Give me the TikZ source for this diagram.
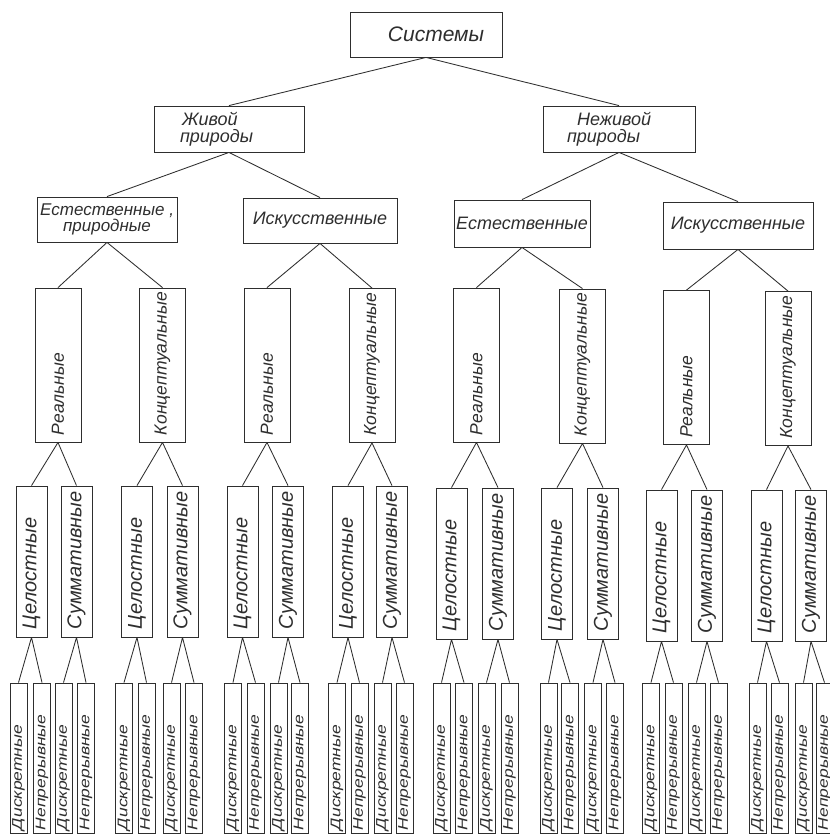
\documentclass[tikz,border=0pt]{standalone}
\usepackage{fontspec}
\setmainfont{Liberation Sans}
\definecolor{ink}{gray}{0.18}
\tikzset{
  box/.style={draw=ink, line width=0.85pt, text=ink, inner ysep=0pt, font=\fontsize{18}{17}\selectfont\itshape},
  hbox/.style={box, align=left},
  cbox/.style={box, align=center, inner xsep=0pt},
  vbox/.style={box, rotate=90, align=left},
  lvfour/.style={vbox, minimum height=46pt, text width=140pt, inner xsep=7pt, font=\fontsize{17.5}{17.5}\selectfont\itshape},
  lvfive/.style={vbox, minimum height=31pt, text width=135pt, inner xsep=8pt, font=\fontsize{20}{20}\selectfont\itshape},
  lvsix/.style={vbox, minimum height=17pt, text width=144pt, inner xsep=3pt, font=\fontsize{14}{14}\selectfont\itshape},
  conn/.style={draw=ink, line width=0.85pt},
}
\begin{document}
\begin{tikzpicture}[x=1pt,y=-1pt]
\fill[white] (0,0) rectangle (830,836);
\useasboundingbox (0,0) rectangle (830,836);
% level 1
\node[box, minimum width=152pt, minimum height=45pt, inner xsep=0pt, font=\fontsize{21}{21}\selectfont\itshape] (sys) at (426,34.5) {\hspace*{20pt}Системы};
% level 2
\node[hbox, minimum height=46pt, text width=98pt, inner xsep=26pt] (zp) at (229,129) {\hspace*{2pt}Живой\\природы};
\node[hbox, minimum height=46pt, text width=104pt, inner xsep=24pt] (np) at (619,129) {\hspace*{10pt}Неживой\\природы};
% level 3
\node[cbox, minimum width=140pt, minimum height=45pt, font=\fontsize{17}{16}\selectfont\itshape] (b1) at (107,219.5) {Естественные ,\\природные};
\node[cbox, minimum width=154pt, minimum height=45pt] (b2) at (320,220.5) {Искусственные};
\node[cbox, minimum width=136pt, minimum height=47pt] (b3) at (522,223.5) {Естественные};
\node[cbox, minimum width=150pt, minimum height=47pt] (b4) at (738,225.5) {Искусственные};
% level 4
\foreach \n/\x/\y/\t in {a1/58/365/Реальные, a2/162.5/365/Концептуальные, a3/267/365/Реальные, a4/372/365.5/Концептуальные, a5/476.5/365/Реальные, a6/582.5/366/Концептуальные, a7/686.5/367.5/Реальные, a8/788/368.5/Концептуальные}
  \node[lvfour] (\n) at (\x,\y) {\t};
% level 5
\foreach \x/\y/\t [count=\i] in {31.5/561.5/Целостные, 76.5/561.5/Суммативные, 137/561.5/Целостные, 182.5/561.5/Суммативные, 242.5/561.5/Целостные, 288/561.5/Суммативные, 348/561.5/Целостные, 392/561.5/Суммативные, 451.5/563.5/Целостные, 498/563.5/Суммативные, 557/563.5/Целостные, 603/563.5/Суммативные, 661.5/565.5/Целостные, 707/565.5/Суммативные, 766.5/565.5/Целостные, 811/565.5/Суммативные}
  \node[lvfive] (p\i) at (\x,\y) {\t};
% level 6
\foreach \x [count=\i] in {18.5, 42, 63.5, 86, 124, 146.5, 171.5, 194, 233, 255.5, 278.5, 300, 337, 359.5, 382.5, 404.5, 441.5, 464, 486.5, 509.5, 548.5, 570, 593, 615, 651, 673.5, 696.5, 718.5, 757.5, 779.5, 803.5, 824.5}
  \node[lvsix] (q\i) at (\x,758) {\scalebox{1.25}[1]{\ifodd\i\relax Дискретные\else Непрерывные\fi}};
% connectors
\draw[conn] (sys.south) -- (zp.north) (sys.south) -- (np.north);
\draw[conn] (zp.south) -- (b1.north) (zp.south) -- (b2.north);
\draw[conn] (np.south) -- (b3.north) (np.south) -- (b4.north);
\foreach \k in {1,...,4}{
  \pgfmathtruncatemacro\ja{2*\k-1}\pgfmathtruncatemacro\jb{2*\k}
  \draw[conn] (b\k.south) -- (a\ja.east) (b\k.south) -- (a\jb.east);
}
\foreach \k in {1,...,8}{
  \pgfmathtruncatemacro\ja{2*\k-1}\pgfmathtruncatemacro\jb{2*\k}
  \draw[conn] (a\k.west) -- (p\ja.east) (a\k.west) -- (p\jb.east);
}
\foreach \k in {1,...,16}{
  \pgfmathtruncatemacro\ja{2*\k-1}\pgfmathtruncatemacro\jb{2*\k}
  \draw[conn] (p\k.west) -- (q\ja.east) (p\k.west) -- (q\jb.east);
}
\end{tikzpicture}
\end{document}
